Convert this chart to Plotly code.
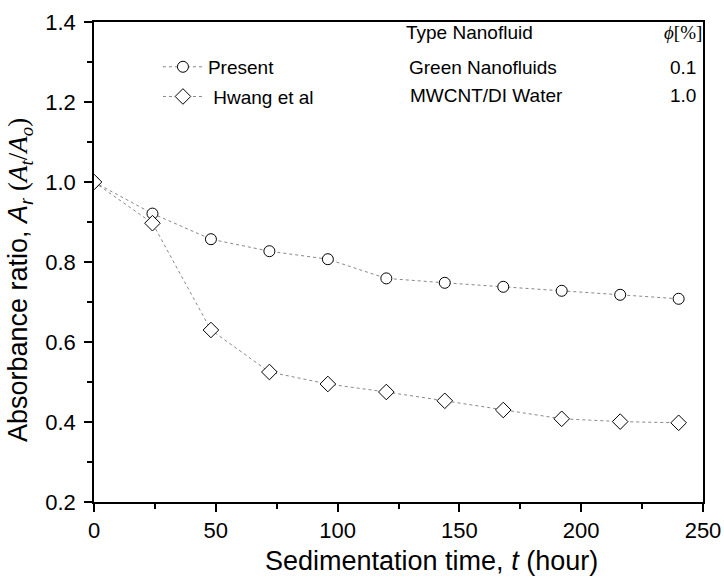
import plotly.graph_objects as go

time_h = [0, 24, 48, 72, 96, 120, 144, 168, 192, 216, 240]
present = [1.0, 0.921, 0.857, 0.827, 0.807, 0.759, 0.748, 0.738, 0.728, 0.718, 0.708]
hwang = [1.0, 0.897, 0.630, 0.525, 0.495, 0.475, 0.453, 0.430, 0.408, 0.401, 0.398]

series_names = ["Present", "Hwang et al"]
nanofluid_types = ["Green Nanofluids", "MWCNT/DI Water"]
phi_values = ["0.1", "1.0"]

FONT = "Liberation Sans, Arial, sans-serif"

fig = go.Figure()
fig.add_trace(go.Scatter(
    x=time_h, y=present, name=series_names[0], mode="lines+markers",
    line=dict(color="#888888", width=1, dash="dot"),
    marker=dict(symbol="circle", size=11, color="white", line=dict(color="black", width=1)),
    legendgroup="a"))
fig.add_trace(go.Scatter(
    x=time_h, y=hwang, name=" " + series_names[1], mode="lines+markers",
    line=dict(color="#888888", width=1, dash="dot"),
    marker=dict(symbol="diamond", size=12, color="white", line=dict(color="black", width=1)),
    legendgroup="b"))

axis_common = dict(
    showline=True, linecolor="black", linewidth=1.5, mirror=True,
    ticks="outside", ticklen=8, tickwidth=1.5, tickcolor="black",
    showgrid=False, zeroline=False, automargin=False,
    tickfont=dict(family=FONT, size=22, color="black"),
)

fig.update_xaxes(range=[0, 250], dtick=50, tick0=0,
                 minor=dict(ticks="outside", ticklen=5, dtick=25, tickcolor="black", tickwidth=1.5),
                 **axis_common)
fig.update_yaxes(range=[0.2, 1.4], dtick=0.2, tick0=0.2, tickformat=".1f", ticklabelstandoff=4,
                 minor=dict(ticks="outside", ticklen=5, dtick=0.1, tickcolor="black", tickwidth=1.5),
                 **axis_common)

ann_font = dict(family=FONT, size=19, color="black")
annotations = [
    dict(x=0.555, y=-0.123, xref="paper", yref="paper",
         text="Sedimentation time, <i>t</i> (hour)",
         showarrow=False, font=dict(family=FONT, size=27, color="black"),
         xanchor="center", yanchor="middle"),
    dict(x=-0.1215, y=0.4625, xref="paper", yref="paper", textangle=-90,
         text="Absorbance ratio, <i>A<sub>r</sub></i> <span style='font-family:Liberation Serif'>(<i>A<sub>t</sub></i>/<i>A<sub>o</sub></i>)</span>",
         showarrow=False, font=dict(family=FONT, size=27, color="black"),
         xanchor="center", yanchor="middle"),
    dict(x=0.617, y=0.979, xref="paper", yref="paper", text="Type Nanofluid",
         showarrow=False, font=ann_font, xanchor="center", yanchor="middle"),
    dict(x=0.967, y=0.979, xref="paper", yref="paper",
         text="<i><span style='font-family:Liberation Serif'>ϕ</span></i><span style='font-family:Liberation Serif'>[%]</span>",
         showarrow=False, font=ann_font, xanchor="center", yanchor="middle"),
]
row_y = [0.906, 0.846]
row_x = [0.639, 0.644]
for i in range(2):
    annotations.append(dict(x=row_x[i], y=row_y[i], xref="paper", yref="paper", text=nanofluid_types[i],
                            showarrow=False, font=ann_font, xanchor="center", yanchor="middle"))
    annotations.append(dict(x=0.967, y=row_y[i], xref="paper", yref="paper", text=phi_values[i],
                            showarrow=False, font=ann_font, xanchor="center", yanchor="middle"))

fig.update_layout(
    width=724, height=578,
    margin=dict(l=94, r=21, t=22, b=76, autoexpand=False),
    paper_bgcolor="white", plot_bgcolor="white",
    font=dict(family=FONT, color="black"),
    showlegend=True,
    legend=dict(x=0.105, y=0.946, xanchor="left", yanchor="top",
                bgcolor="rgba(0,0,0,0)", font=dict(family=FONT, size=19, color="black"),
                tracegroupgap=2, itemwidth=40),
    annotations=annotations,
)

fig.write_html("out.html", config={"displayModeBar": False},
               post_script="document.body.style.margin='0';document.body.style.overflow='hidden';")
